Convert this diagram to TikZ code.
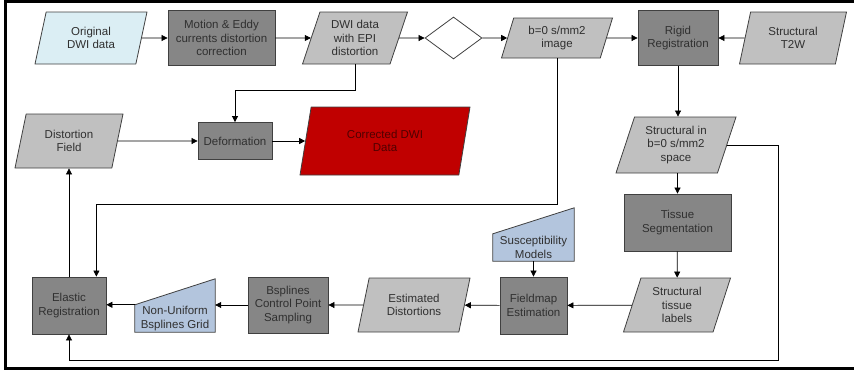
\documentclass[tikz,border=0pt]{standalone}
\usepackage{fontspec}
\setmainfont{Liberation Sans}
\usepackage{tikz}
\usetikzlibrary{positioning,shapes.geometric,arrows.meta,backgrounds}
\definecolor{procgray}{HTML}{868686}
\definecolor{datagray}{HTML}{C0C0C0}
\definecolor{inputcyan}{HTML}{DBEEF4}
\definecolor{manualblue}{HTML}{B3C5DD}
\definecolor{outred}{HTML}{C00000}
\definecolor{outtext}{HTML}{500000}
\definecolor{txtgray}{HTML}{303030}
\definecolor{edgegray}{HTML}{404040}
\tikzset{
  procbox/.style={draw=edgegray, line width=0.8pt, rectangle, fill=procgray, align=center, text=txtgray, inner sep=1pt},
  databox/.style={draw=edgegray, line width=0.8pt, trapezium, trapezium left angle=65, trapezium right angle=115,
    trapezium stretches body, fill=datagray, align=center, text=txtgray, inner sep=1pt},
  decide/.style={draw=edgegray, line width=0.8pt, diamond, minimum width=57pt, minimum height=42pt, inner sep=0pt},
  manualin/.style={align=center, text=txtgray, inner sep=1pt, minimum height=27pt},
  arrow/.style={-{Triangle[length=6pt,width=6pt]}, line width=0.7pt}
}

\begin{document}
\begin{tikzpicture}[x=1pt, y=-1pt, font=\fontsize{11.5}{13.5}\selectfont]
  \useasboundingbox (0,0) rectangle (854,372);
  \draw[line width=3pt] (854,1.5) -- (5.5,1.5) -- (5.5,368) -- (854,368);

  % top row
  \node[databox, fill=inputcyan, minimum width=112pt, minimum height=52pt] (orig) at (91,38) {Original\\DWI data};
  \node[procbox, minimum width=107pt, minimum height=55pt] (motion) at (221.5,38) {Motion \& Eddy\\currents distortion\\correction};
  \node[databox, minimum width=105pt, minimum height=52pt] (dwi) at (355,38) {DWI data\\with EPI\\distortion};
  \node[decide] (check) at (453.5,38) {};
  \node[databox, minimum width=111pt, minimum height=40pt] (bzero) at (557,38) {b=0 s/mm2\\image};
  \node[procbox, minimum width=80pt, minimum height=55pt] (rigid) at (678,38) {Rigid\\Registration};
  \node[databox, minimum width=107pt, minimum height=52pt] (tw) at (793,38) {Structural\\T2W};

  % middle row
  \node[databox, minimum width=108pt, minimum height=54pt] (distf) at (69,141) {Distortion\\Field};
  \node[procbox, minimum width=74pt, minimum height=37pt] (deform) at (235,141) {Deformation};
  \node[databox, fill=outred, text=outtext, minimum width=170pt, minimum height=68pt] (corr) at (385,141) {Corrected DWI\\Data};
  \node[databox, minimum width=120pt, minimum height=56pt] (strin) at (676,145) {Structural in\\b=0 s/mm2\\space};
  \node[procbox, minimum width=107pt, minimum height=57pt] (tissue) at (677.5,222.5) {Tissue\\Segmentation};

  % bottom row
  \node[databox, minimum width=107pt, minimum height=54pt] (labels) at (677,305) {Structural\\tissue\\labels};
  \node[procbox, minimum width=67pt, minimum height=57pt] (fmap) at (533.5,305.5) {Fieldmap\\Estimation};
  \node[manualin, minimum width=81pt] (susc) at (533.5,247.5) {Susceptibility\\Models};
  \node[databox, minimum width=112pt, minimum height=54pt] (estim) at (414,305) {Estimated\\Distortions};
  \node[procbox, minimum width=80pt, minimum height=56pt] (bspl) at (288,305) {Bsplines\\Control Point\\Sampling};
  \node[manualin, minimum width=80pt] (grid) at (175,318.5) {Non-Uniform\\Bsplines Grid};
  \node[procbox, minimum width=74pt, minimum height=57pt] (elastic) at (69,305.5) {Elastic\\Registration};
  \coordinate (loop) at (778,360);

  \begin{scope}[on background layer]
    \filldraw[draw=edgegray, line width=0.8pt, fill=manualblue] (susc.south west) -- (susc.south east) -- ([yshift=26pt]susc.north east) -- (susc.north west) -- cycle;
    \filldraw[draw=edgegray, line width=0.8pt, fill=manualblue] (grid.south west) -- (grid.south east) -- ([yshift=26pt]grid.north east) -- (grid.north west) -- cycle;
  \end{scope}

  \draw[arrow] (orig) -- (motion);
  \draw[arrow] (motion) -- (dwi);
  \draw[arrow] (dwi) -- (check);
  \draw[arrow] (check) -- (bzero);
  \draw[arrow] (bzero) -- (rigid);
  \draw[arrow] (tw) -- (rigid);
  \draw[arrow] (dwi.center |- dwi.south) -- ++(0,26) -| (deform.north);
  \draw[arrow] (distf) -- (deform);
  \draw[arrow] (deform) -- (corr);
  \draw[arrow] (elastic.north) -- (elastic.north |- distf.south);
  \draw[arrow] (bzero.center |- bzero.south) -- ++(0,146) -| ([xshift=-10pt]elastic.north east);
  \draw[arrow] (rigid.south) -- (rigid.south |- strin.north);
  \draw[arrow] (strin.east) -| (loop) -| (elastic.south);
  \draw[arrow] (tissue.north |- strin.south) -- (tissue.north);
  \draw[arrow] (tissue) -- (labels);
  \draw[arrow] (labels) -- (fmap);
  \draw[arrow] (susc) -- (fmap);
  \draw[arrow] (fmap) -- (estim);
  \draw[arrow] (estim) -- (bspl);
  \draw[arrow] (bspl.west) -- (bspl.west -| grid.east);
  \draw[arrow] (grid.north west) -- (grid.north west -| elastic.east);
\end{tikzpicture}
\end{document}
